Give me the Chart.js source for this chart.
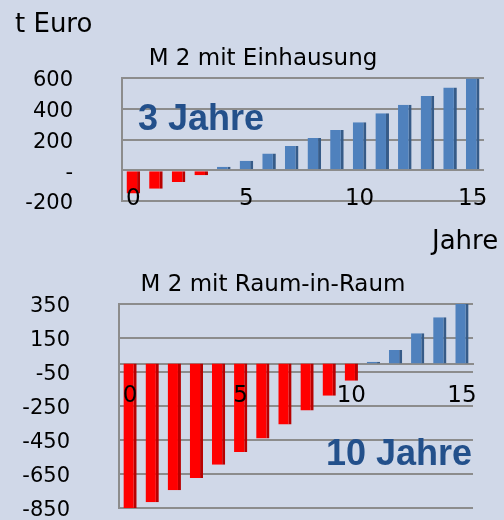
<!DOCTYPE html>
<html>
<head>
<meta charset="utf-8">
<script src="https://cdn.jsdelivr.net/npm/chart.js@4.4.0/dist/chart.umd.min.js"></script>
<style>
  body { margin: 0; background: #d0d8e8; }
  #page { position: relative; width: 504px; height: 520px; overflow: hidden; font-family: "DejaVu Sans", sans-serif; }
  .box { position: absolute; left: 0; width: 504px; }
  .txt { position: absolute; line-height: 1; white-space: nowrap; color: #000; }
  .mid { transform: translateX(-50%); }
  .big { font-family: "Liberation Sans", Arial, sans-serif; font-weight: bold; font-size: 36px; color: #23508b; }
</style>
</head>
<body>
<div id="page">
  <div class="box" style="top:0;height:250px"><canvas id="chart_einhausung"></canvas></div>
  <div class="box" style="top:250px;height:270px"><canvas id="chart_raum"></canvas></div>

  <div class="txt" style="left:15px;top:10px;font-size:26px">t Euro</div>
  <div class="txt mid" style="left:263px;top:46px;font-size:23px">M 2 mit Einhausung</div>
  <div class="txt big" style="left:138px;top:100px">3 Jahre</div>
  <div class="txt" style="left:432px;top:227px;font-size:26px">Jahre</div>
  <div class="txt mid" style="left:273px;top:272px;font-size:23px">M 2 mit Raum-in-Raum</div>
  <div class="txt big" style="left:326px;top:435px">10 Jahre</div>
</div>

<script>
// years 0..15
var years = ['0', '1', '2', '3', '4', '5', '6', '7', '8', '9', '10', '11', '12', '13', '14', '15'];
var shownYears = ['0', '5', '10', '15'];

// t Euro, cumulative
var einhausung = [-152, -120, -76, -33, 22, 61, 109, 157, 209, 261, 313, 370, 426, 483, 539, 596];
var raumInRaum = [-851, -816, -745, -674, -596, -521, -441, -359, -276, -190, -102, 10, 80, 178, 272, 374];

var einhausungTicks = [-200, 0, 200, 400, 600];
var raumTicks = [-850, -650, -450, -250, -50, 150, 350];

var red = '#ff0000', redSide = '#b80000';
var blue = '#4f81bd', blueSide = '#365b88';
var gridColor = '#8c8c8c';

function makeChart(id, values, tickValues, opt) {
  var ctx = document.getElementById(id).getContext('2d');
  return new Chart(ctx, {
    type: 'bar',
    data: {
      labels: years,
      datasets: [{
        data: values,
        backgroundColor: function (c) { return c.raw < 0 ? red : blue; },
        borderColor: function (c) { return c.raw < 0 ? redSide : blueSide; },
        borderWidth: { top: 0, right: 3, bottom: 0, left: 0 },
        borderSkipped: false,
        inflateAmount: 0,
        barPercentage: 0.6,
        categoryPercentage: 1
      }]
    },
    options: {
      responsive: true,
      maintainAspectRatio: false,
      animation: false,
      layout: { padding: opt.padding },
      plugins: { legend: { display: false }, tooltip: { enabled: false } },
      scales: {
        x: {
          position: { y: opt.xAt },
          grid: { display: false },
          border: { display: true, color: gridColor, width: 2 },
          ticks: {
            z: 1,
            autoSkip: false,
            maxRotation: 0,
            padding: opt.xPad,
            color: '#000',
            font: { family: 'DejaVu Sans', size: 23 },
            callback: function (v, i) {
              var lab = years[i];
              return shownYears.indexOf(lab) >= 0 ? lab : '';
            }
          },
          afterFit: function (scale) { scale.paddingLeft = 0; scale.paddingRight = 0; }
        },
        y: {
          min: tickValues[0],
          max: tickValues[tickValues.length - 1],
          grid: { color: gridColor, lineWidth: 2, drawTicks: false },
          border: { display: true, color: gridColor, width: 2 },
          ticks: {
            padding: 49,
            labelOffset: 3,
            color: '#000',
            font: { family: 'DejaVu Sans', size: 21 },
            callback: function (v) { return v === 0 ? '-' : v; }
          },
          afterBuildTicks: function (scale) {
            scale.ticks = tickValues.map(function (v) { return { value: v }; });
          },
          afterFit: function (scale) {
            scale.width = opt.yWidth;
            scale.paddingTop = 0;
            scale.paddingBottom = 0;
          }
        }
      }
    }
  });
}

makeChart('chart_einhausung', einhausung, einhausungTicks, {
  padding: { top: 78, right: 20, bottom: 49, left: 0 },
  yWidth: 122, xAt: -200, xPad: -24
});

makeChart('chart_raum', raumInRaum, raumTicks, {
  padding: { top: 54, right: 31, bottom: 12, left: 0 },
  yWidth: 119, xAt: 0, xPad: 11
});
</script>
</body>
</html>
